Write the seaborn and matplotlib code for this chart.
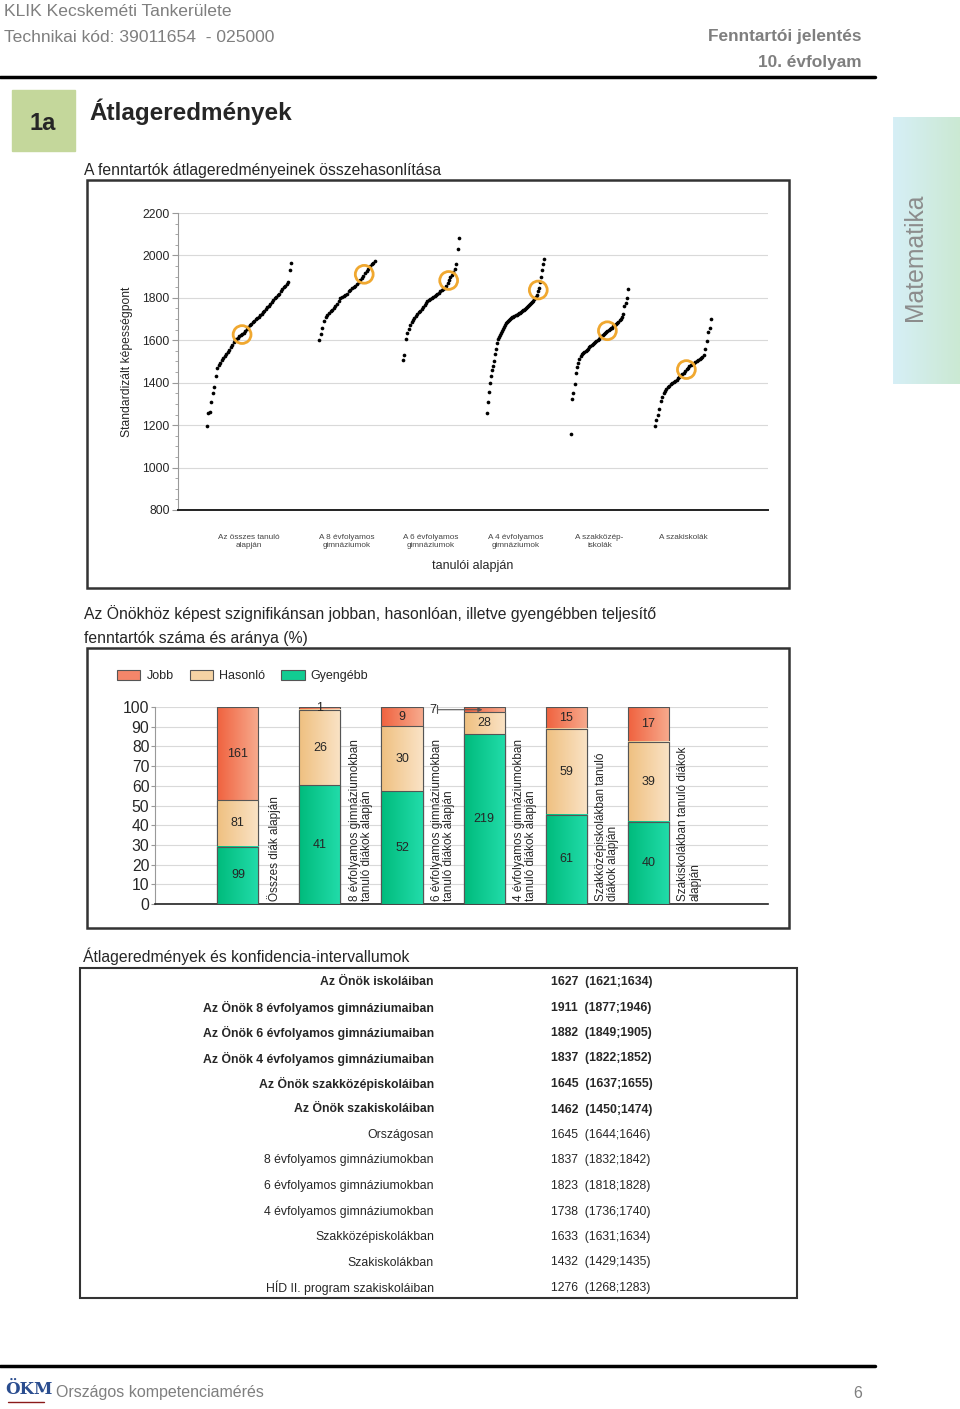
import numpy as np
import matplotlib
matplotlib.use('Agg')
import matplotlib.pyplot as plt
from matplotlib.patches import Rectangle, Patch
from matplotlib.ticker import MultipleLocator
from matplotlib.colors import to_rgb
import seaborn as sns
import pandas as pd

# ---------------- data ----------------
group_labels = ['Az összes tanuló\nalapján', 'A 8 évfolyamos\ngimnáziumok', 'A 6 évfolyamos\ngimnáziumok',
                'A 4 évfolyamos\ngimnáziumok', 'A szakközép-\niskolák', 'A szakiskolák']

g_all = [1195, 1258, 1262, 1310, 1350, 1380, 1430, 1470, 1485, 1495, 1505, 1515, 1525, 1535, 1545,
         1556, 1570, 1580, 1590, 1600, 1607, 1613, 1618, 1623, 1628, 1636, 1645, 1655, 1662, 1670,
         1678, 1685, 1692, 1698, 1704, 1710, 1718, 1725, 1732, 1740, 1748, 1755, 1763, 1772, 1781,
         1790, 1798, 1805, 1812, 1820, 1830, 1840, 1850, 1858, 1866, 1875, 1930, 1962]
g_8 = [1600, 1628, 1660, 1690, 1708, 1720, 1728, 1736, 1744, 1752, 1760, 1772, 1785, 1798, 1804,
       1810, 1815, 1820, 1830, 1838, 1845, 1852, 1858, 1866, 1874, 1882, 1893, 1905, 1918, 1928,
       1938, 1948, 1958, 1966, 1975]
g_6 = [1505, 1532, 1605, 1636, 1655, 1672, 1684, 1695, 1706, 1716, 1724, 1732, 1740, 1748, 1758,
       1768, 1776, 1783, 1790, 1796, 1800, 1804, 1809, 1814, 1818, 1823, 1830, 1836, 1842, 1848,
       1856, 1870, 1885, 1897, 1907, 1920, 1938, 1960, 2030, 2080]
g_4 = [1255, 1310, 1355, 1400, 1430, 1460, 1480, 1500, 1535, 1560, 1588, 1605, 1615, 1626, 1635,
       1645, 1655, 1663, 1672, 1680, 1687, 1692, 1696, 1700, 1704, 1708, 1711, 1714, 1717, 1720,
       1724, 1727, 1730, 1734, 1738, 1741, 1745, 1748, 1752, 1757, 1762, 1767, 1772, 1777, 1782,
       1787, 1793, 1799, 1806, 1815, 1830, 1848, 1875, 1900, 1930, 1960, 1985]
g_szkp = [1160, 1325, 1350, 1395, 1445, 1475, 1495, 1512, 1524, 1533, 1540, 1545, 1551, 1556, 1561,
          1566, 1571, 1576, 1581, 1586, 1592, 1598, 1603, 1608, 1614, 1620, 1626, 1631, 1636, 1640,
          1645, 1649, 1653, 1657, 1660, 1665, 1672, 1678, 1683, 1688, 1694, 1700, 1712, 1725, 1760,
          1775, 1800, 1840]
g_szi = [1195, 1222, 1250, 1275, 1312, 1335, 1350, 1363, 1372, 1380, 1386, 1393, 1400, 1405, 1410,
         1415, 1420, 1428, 1436, 1443, 1448, 1456, 1463, 1471, 1479, 1485, 1490, 1495, 1499, 1502,
         1506, 1510, 1515, 1520, 1530, 1558, 1595, 1640, 1660, 1700]
group_means = [1627, 1911, 1882, 1837, 1645, 1462]

bar_labels = ['Összes diák alapján', '8 évfolyamos gimnáziumokban\ntanuló diákok alapján',
              '6 évfolyamos gimnáziumokban\ntanuló diákok alapján', '4 évfolyamos gimnáziumokban\ntanuló diákok alapján',
              'Szakközépiskolákban tanuló\ndiákok alapján', 'Szakiskolákban tanuló diákok\nalapján']
jobb = [161, 1, 9, 7, 15, 17]
hasonlo = [81, 26, 30, 28, 59, 39]
gyengebb = [99, 41, 52, 219, 61, 40]

table_names = ['Az Önök iskoláiban', 'Az Önök 8 évfolyamos gimnáziumaiban', 'Az Önök 6 évfolyamos gimnáziumaiban',
               'Az Önök 4 évfolyamos gimnáziumaiban', 'Az Önök szakközépiskoláiban', 'Az Önök szakiskoláiban',
               'Országosan', '8 évfolyamos gimnáziumokban', '6 évfolyamos gimnáziumokban',
               '4 évfolyamos gimnáziumokban', 'Szakközépiskolákban', 'Szakiskolákban',
               'HÍD II. program szakiskoláiban']
table_mean = [1627, 1911, 1882, 1837, 1645, 1462, 1645, 1837, 1823, 1738, 1633, 1432, 1276]
table_lo = [1621, 1877, 1849, 1822, 1637, 1450, 1644, 1832, 1818, 1736, 1631, 1429, 1268]
table_hi = [1634, 1946, 1905, 1852, 1655, 1474, 1646, 1842, 1828, 1740, 1634, 1435, 1283]
n_bold = 6

# ---------------- page ----------------
sns.set_style('white')
plt.rcParams['font.family'] = ['Liberation Sans', 'DejaVu Sans']
W, H = 960, 1409
fig = plt.figure(figsize=(W / 100, H / 100), dpi=100)


def rect(x0, y0, x1, y1):
    return [x0 / W, 1 - y1 / H, (x1 - x0) / W, (y1 - y0) / H]


def hgrad(c_left, c_right, n=64):
    a, b = np.array(to_rgb(c_left)), np.array(to_rgb(c_right))
    t = np.linspace(0, 1, n)[None, :, None]
    return a + (b - a) * t


page = fig.add_axes([0, 0, 1, 1], zorder=0)
page.axis('off')

gray = '#7f7f7f'
page.text(4, 11, 'KLIK Kecskeméti Tankerülete', color=gray, fontsize=12.6, va='center')
page.text(4, 37, 'Technikai kód: 39011654  - 025000', color=gray, fontsize=12.6, va='center')
page.text(862, 37, 'Fenntartói jelentés', color=gray, fontsize=12.4, va='center', ha='right', weight='bold')
page.text(862, 63, '10. évfolyam', color=gray, fontsize=12.4, va='center', ha='right', weight='bold')
page.plot([0, 875], [77, 77], color='black', lw=2.5)
page.add_patch(Rectangle((12, 90), 63, 61, color='#c4d79b'))
page.text(43, 123, '1a', fontsize=17, weight='bold', ha='center', va='center')
page.text(89, 112, 'Átlageredmények', fontsize=17.5, weight='bold', va='center')

page.imshow(hgrad('#d6eff6', '#cbe9d3'), extent=(893, 960, 384, 117), aspect='auto', zorder=1)
page.text(915, 257, 'Matematika', color='#8c8c8c', fontsize=17.8, rotation=90, ha='center', va='center', zorder=3)

page.text(84, 170, 'A fenntartók átlageredményeinek összehasonlítása', fontsize=11.3, va='center')
page.add_patch(Rectangle((87, 180), 702, 408, fill=False, ec='#333333', lw=1.8))
page.text(84, 614, 'Az Önökhöz képest szignifikánsan jobban, hasonlóan, illetve gyengébben teljesítő',
          fontsize=11.3, va='center')
page.text(84, 638, 'fenntartók száma és aránya (%)', fontsize=11.3, va='center')
page.add_patch(Rectangle((87, 648), 702, 280, fill=False, ec='#333333', lw=1.8))
page.text(83, 956, 'Átlageredmények és konfidencia-intervallumok', fontsize=11.3, va='center')
page.add_patch(Rectangle((80, 968), 717, 330, fill=False, ec='#333333', lw=1.5))

page.plot([0, 875], [1366, 1366], color='black', lw=2.5)
page.text(5, 1389, 'ÖKM', fontsize=12, family='DejaVu Serif', color='#2a4d8f', va='center', weight='bold')
page.plot([8, 44], [1402, 1402], color='#8b1a1a', lw=1)
page.text(56, 1393, 'Országos kompetenciamérés', color=gray, fontsize=11.5, va='center')
page.text(862, 1393, '6', color=gray, fontsize=11.5, va='center', ha='right')
page.set_xlim(0, W)
page.set_ylim(H, 0)

# ---------------- scatter chart ----------------
ax1 = fig.add_axes(rect(178, 213, 768, 510), zorder=2)
groups = [g_all, g_8, g_6, g_4, g_szkp, g_szi]
starts = [207, 319, 403, 487, 571, 655]
widths = [84, 56, 56, 57, 57, 56]
rows = []
centers, cx, cy = [], [], []
for i, vals in enumerate(groups):
    n = len(vals)
    for r, v in enumerate(vals):
        rows.append({'group': i, 'x': starts[i] + widths[i] * r / (n - 1), 'value': v})
    frac = np.interp(group_means[i], vals, np.arange(n)) / (n - 1)
    cx.append(starts[i] + widths[i] * frac)
    cy.append(group_means[i])
    centers.append(starts[i] + widths[i] / 2)
df = pd.DataFrame(rows)
sns.scatterplot(data=df, x='x', y='value', ax=ax1, color='black', s=7, linewidth=0, legend=False, zorder=3)
ax1.scatter(cx, cy, s=165, facecolors='none', edgecolors='#f0a830', linewidths=2, zorder=4)
ax1.set_xlim(178, 768)
ax1.set_ylim(800, 2200)
ax1.yaxis.set_major_locator(MultipleLocator(200))
ax1.yaxis.set_minor_locator(MultipleLocator(50))
ax1.yaxis.grid(True, color='#d9d9d9', lw=0.8)
ax1.set_axisbelow(True)
for s in ['top', 'right']:
    ax1.spines[s].set_visible(False)
ax1.spines['left'].set_color('#999999')
ax1.spines['bottom'].set_color('#222222')
ax1.spines['bottom'].set_linewidth(1.4)
ax1.tick_params(axis='y', which='major', length=4, color='#999999', labelsize=8.7, pad=2, left=True)
ax1.tick_params(axis='y', which='minor', length=2, color='#999999', left=True)
ax1.set_xticks(centers)
ax1.set_xticklabels(group_labels, fontsize=5.9, color='#444444')
ax1.tick_params(axis='x', length=0, pad=17)
ax1.set_xlabel('tanulói alapján', fontsize=9, labelpad=8)
ax1.set_ylabel('Standardizált képességpont', fontsize=8.7)
ax1.yaxis.set_label_coords(-0.076, 0.5)

# ---------------- stacked bar chart ----------------
ax2 = fig.add_axes(rect(155, 707, 768, 904), zorder=2)
tot = np.array(jobb) + np.array(hasonlo) + np.array(gyengebb)
p_g = np.array(gyengebb) / tot * 100
p_h = np.array(hasonlo) / tot * 100
p_j = np.array(jobb) / tot * 100
bdf = pd.DataFrame({'cat': bar_labels, 'top': p_g + p_h + p_j, 'mid': p_g + p_h, 'low': p_g})
series = [('top', '#f0623f', '#f7ab8e', '#f4866a'),
          ('mid', '#efc080', '#fae3c6', '#f5d3a4'),
          ('low', '#00bb7c', '#22dcaa', '#12cc92')]
for s_i, (col, c_left, c_right, c_mid) in enumerate(series):
    n_before = len(ax2.patches)
    z = 3 + s_i * 0.2
    sns.barplot(data=bdf, x='cat', y=col, color=c_mid, saturation=1, width=0.5, edgecolor='#555555',
                linewidth=0.8, errorbar=None, ax=ax2)
    for p in ax2.patches[n_before:]:
        x0, w, h = p.get_x(), p.get_width(), p.get_height()
        ax2.imshow(hgrad(c_left, c_right), extent=(x0, x0 + w, 0, h), aspect='auto', zorder=z,
                   interpolation='bilinear')
        p.set_facecolor('none')
        p.set_zorder(z + 0.1)

jobb_callout = [False, False, False, True, False, False]
for k in range(len(bar_labels)):
    ax2.text(k, p_g[k] / 2, str(gyengebb[k]), ha='center', va='center', fontsize=9, zorder=5)
    ax2.text(k, p_g[k] + p_h[k] / 2, str(hasonlo[k]), ha='center', va='center', fontsize=9, zorder=5)
    if not jobb_callout[k]:
        ax2.text(k, 100 - p_j[k] / 2, str(jobb[k]), ha='center', va='center', fontsize=9, zorder=5)
    else:
        yj = 100 - p_j[k] / 2
        ax2.text(k - 0.63, yj, str(jobb[k]), ha='center', va='center', fontsize=9, zorder=5)
        ax2.plot([k - 0.57, k - 0.57], [97.2, 101], color='#555555', lw=0.8, zorder=5, clip_on=False)
        ax2.annotate('', xy=(k - 0.02, yj), xytext=(k - 0.57, yj), zorder=5,
                     arrowprops=dict(arrowstyle='-|>', color='#555555', lw=0.8, shrinkA=0, shrinkB=0,
                                     mutation_scale=6))
    ax2.text(k + 0.35, 1.5, bar_labels[k], rotation=90, ha='left', va='bottom', fontsize=8.5,
             multialignment='left', linespacing=1.05, zorder=5)
ax2.set_xlim(-1.01, 6.46)
ax2.set_ylim(0, 100)
ax2.yaxis.set_major_locator(MultipleLocator(10))
ax2.yaxis.grid(True, color='#d9d9d9', lw=0.8)
ax2.set_axisbelow(True)
ax2.set_xticks([])
ax2.set_xlabel('')
ax2.set_ylabel('')
for s in ['top', 'right']:
    ax2.spines[s].set_visible(False)
ax2.spines['left'].set_color('#999999')
ax2.spines['bottom'].set_color('#222222')
ax2.spines['bottom'].set_linewidth(1.2)
ax2.tick_params(axis='y', length=3, color='#999999', labelsize=11.3, pad=1, left=True)

handles = [Patch(facecolor=series[0][3], edgecolor='#555555', lw=0.8, label='Jobb'),
           Patch(facecolor=series[1][3], edgecolor='#555555', lw=0.8, label='Hasonló'),
           Patch(facecolor=series[2][3], edgecolor='#555555', lw=0.8, label='Gyengébb')]
fig.legend(handles=handles, loc='center left', bbox_to_anchor=(117 / W, 1 - 676 / H), ncol=3, frameon=False,
           fontsize=9, handlelength=1.85, handleheight=0.95, handletextpad=0.5, columnspacing=1.3,
           borderaxespad=0, borderpad=0)

# ---------------- table ----------------
ax3 = fig.add_axes(rect(80, 968, 797, 1298), zorder=2)
ax3.set_xlim(80, 797)
ax3.set_ylim(1298, 968)
ax3.axis('off')
for i, name in enumerate(table_names):
    y = 982 + 25.5 * i
    w = 'bold' if i < n_bold else 'normal'
    ax3.text(434, y, name, ha='right', va='center', fontsize=8.8, weight=w)
    ax3.text(551, y, f'{table_mean[i]}  ({table_lo[i]};{table_hi[i]})', ha='left', va='center',
             fontsize=8.8, weight=w)

fig.savefig('out.png', dpi=100)
